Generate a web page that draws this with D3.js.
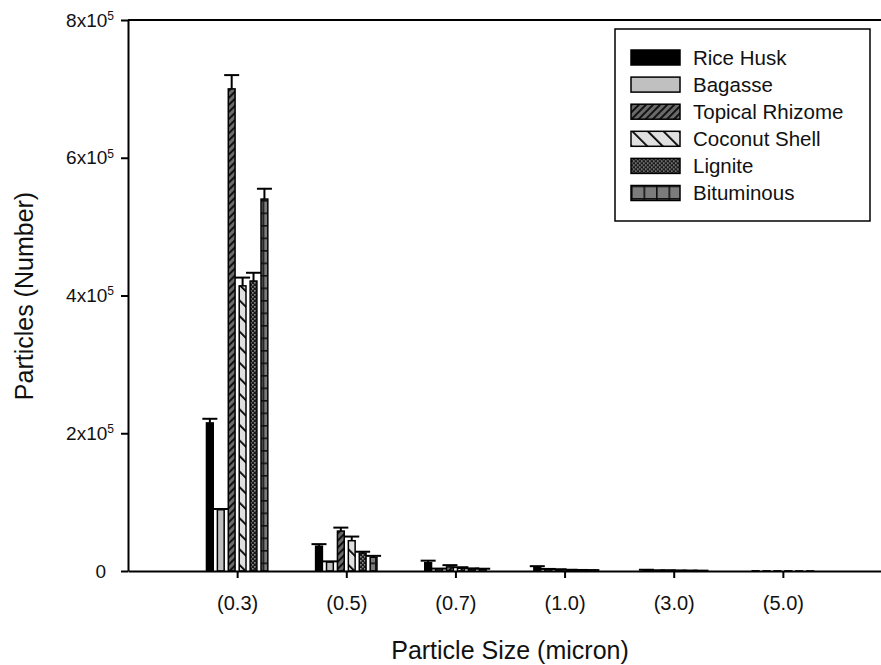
<!DOCTYPE html>
<html>
<head>
<meta charset="utf-8">
<script src="https://cdn.jsdelivr.net/npm/d3@7"></script>
<style>
  body { margin: 0; background: #fff; }
  svg { display: block; font-family: "Liberation Sans", Arial, sans-serif; }
</style>
</head>
<body>
<svg width="881" height="665"></svg>
<script>
// data
var sizes = ["(0.3)", "(0.5)", "(0.7)", "(1.0)", "(3.0)", "(5.0)"];
var seriesNames = ["Rice Husk", "Bagasse", "Topical Rhizome", "Coconut Shell", "Lignite", "Bituminous"];
var riceHusk   = [215000, 36000, 12000, 6000, 1500, 300];
var bagasse    = [89000, 13000, 3000, 2500, 800, 200];
var topical    = [700000, 58000, 6000, 2000, 800, 200];
var coconut    = [414000, 44000, 4000, 1500, 600, 200];
var lignite    = [421000, 26000, 3000, 1200, 500, 100];
var bituminous = [540000, 20000, 2500, 1000, 400, 100];
var riceHuskErr   = [6000, 3000, 3000, 1000, 300, 0];
var bagasseErr    = [1000, 1000, 500, 500, 100, 0];
var topicalErr    = [20000, 5000, 2500, 500, 200, 0];
var coconutErr    = [12000, 6000, 1500, 300, 100, 0];
var ligniteErr    = [12000, 2000, 800, 300, 100, 0];
var bituminousErr = [15000, 2000, 800, 300, 100, 0];
var yTicks = [0, 200000, 400000, 600000, 800000];

var values = [riceHusk, bagasse, topical, coconut, lignite, bituminous];
var errors = [riceHuskErr, bagasseErr, topicalErr, coconutErr, ligniteErr, bituminousErr];
var fills = ["#000", "#c0c0c0", "url(#p-topical)", "url(#p-coconut)", "url(#p-lignite)", "url(#p-bitum)"];

var svg = d3.select("svg");
var plotLeft = 128, plotTop = 20, plotBottom = 571;

var x = d3.scaleLinear().domain([0, 7]).range([plotLeft, 892]);
var inner = d3.scaleBand().domain(seriesNames).range([-0.3, 0.3])
  .paddingInner(0.24).paddingOuter(0.12);
var y = d3.scaleLinear().domain([0, 800000]).range([plotBottom, plotTop]);

// patterns
var defs = svg.append("defs");
var pt = defs.append("pattern").attr("id", "p-topical").attr("patternUnits", "userSpaceOnUse")
  .attr("width", 5).attr("height", 5).attr("patternTransform", "rotate(45)");
pt.append("rect").attr("width", 5).attr("height", 5).attr("fill", "#6a6a6a");
pt.append("rect").attr("width", 2).attr("height", 5).attr("fill", "#111");

var pc = defs.append("pattern").attr("id", "p-coconut").attr("patternUnits", "userSpaceOnUse")
  .attr("width", 11).attr("height", 11).attr("patternTransform", "rotate(-45)");
pc.append("rect").attr("width", 11).attr("height", 11).attr("fill", "#e0e0e0");
pc.append("rect").attr("width", 1.8).attr("height", 11).attr("fill", "#000");

var pl = defs.append("pattern").attr("id", "p-lignite").attr("patternUnits", "userSpaceOnUse")
  .attr("width", 4).attr("height", 4);
pl.append("rect").attr("width", 4).attr("height", 4).attr("fill", "#1a1a1a");
pl.append("rect").attr("x", 0).attr("y", 0).attr("width", 1.6).attr("height", 1.6).attr("fill", "#8a8a8a");
pl.append("rect").attr("x", 2).attr("y", 2).attr("width", 1.6).attr("height", 1.6).attr("fill", "#8a8a8a");

var pb = defs.append("pattern").attr("id", "p-bitum").attr("patternUnits", "userSpaceOnUse")
  .attr("width", 12.5).attr("height", 12.5);
pb.append("rect").attr("width", 12.5).attr("height", 12.5).attr("fill", "#7c7c7c");
pb.append("rect").attr("width", 1.6).attr("height", 12.5).attr("fill", "#111");
pb.append("rect").attr("width", 12.5).attr("height", 1.6).attr("fill", "#111");

// bars
var bw = (x(1) - x(0)) * inner.bandwidth();
seriesNames.forEach(function(name, j) {
  var g = svg.append("g").attr("class", "series");
  g.selectAll("rect").data(values[j]).enter().append("rect")
    .attr("x", function(d, i) { return x(i + 1 + inner(name)) + 0.75; })
    .attr("y", function(d) { return y(d); })
    .attr("width", bw - 1.5)
    .attr("height", function(d) { return plotBottom - y(d); })
    .attr("fill", fills[j])
    .attr("stroke", "#000").attr("stroke-width", 1.5);
  // error bars (upper only)
  var eb = g.selectAll(".err").data(values[j]).enter().append("g").attr("class", "err")
    .filter(function(d, i) { return errors[j][i] > 0; });
  eb.append("line")
    .attr("x1", function(d, i) { return x(i + 1 + inner(name)) + bw / 2; })
    .attr("x2", function(d, i) { return x(i + 1 + inner(name)) + bw / 2; })
    .attr("y1", function(d) { return y(d); })
    .attr("y2", function(d, i) { return y(d + errors[j][i]); })
    .attr("stroke", "#000").attr("stroke-width", 2);
  eb.append("line")
    .attr("x1", function(d, i) { return x(i + 1 + inner(name)) + bw / 2 - 7.5; })
    .attr("x2", function(d, i) { return x(i + 1 + inner(name)) + bw / 2 + 7.5; })
    .attr("y1", function(d, i) { return y(d + errors[j][i]); })
    .attr("y2", function(d, i) { return y(d + errors[j][i]); })
    .attr("stroke", "#000").attr("stroke-width", 2);
});

// axes
var xAxis = svg.append("g").attr("transform", "translate(0," + plotBottom + ")")
  .call(d3.axisBottom(x).tickValues([1, 2, 3, 4, 5, 6])
    .tickFormat(function(d) { return sizes[d - 1]; })
    .tickSize(7).tickSizeOuter(0).tickPadding(18));
xAxis.selectAll("text").attr("font-size", 20).attr("fill", "#111");

var yAxis = svg.append("g").attr("transform", "translate(" + plotLeft + ",0)")
  .call(d3.axisLeft(y).tickValues(yTicks).tickSize(7).tickSizeOuter(0).tickPadding(15));
yAxis.selectAll(".tick text").attr("font-size", 19).attr("fill", "#111")
  .each(function(d) {
    var t = d3.select(this);
    if (d === 0) { t.text("0"); return; }
    t.text(null).attr("transform", "translate(8,0)");
    t.append("tspan").text((d / 100000) + "x10");
    t.append("tspan").attr("dy", "-0.55em").attr("font-size", 12).text("5");
  });

svg.selectAll(".domain, .tick line").attr("stroke", "#000").attr("stroke-width", 2);

// top frame line
svg.append("line").attr("x1", plotLeft).attr("x2", 892).attr("y1", plotTop).attr("y2", plotTop)
  .attr("stroke", "#000").attr("stroke-width", 2);

// axis titles
svg.append("text").attr("x", 510).attr("y", 659).attr("text-anchor", "middle")
  .attr("font-size", 25).attr("fill", "#111").text("Particle Size (micron)");
svg.append("text").attr("transform", "translate(33,296) rotate(-90)").attr("text-anchor", "middle")
  .attr("font-size", 25).attr("fill", "#111").text("Particles (Number)");

// legend
var lg = svg.append("g");
lg.append("rect").attr("x", 615).attr("y", 29).attr("width", 255).attr("height", 192)
  .attr("fill", "#fff").attr("stroke", "#000").attr("stroke-width", 1.5);
var rows = lg.selectAll(".row").data(seriesNames).enter().append("g")
  .attr("transform", function(d, i) { return "translate(631," + (50 + i * 27.1) + ")"; });
rows.append("rect").attr("width", 49).attr("height", 15)
  .attr("fill", function(d, i) { return fills[i]; })
  .attr("stroke", "#000").attr("stroke-width", 1.5);
rows.append("text").attr("x", 62).attr("y", 14.5).attr("font-size", 20.5).attr("fill", "#111")
  .text(function(d) { return d; });
</script>
</body>
</html>
